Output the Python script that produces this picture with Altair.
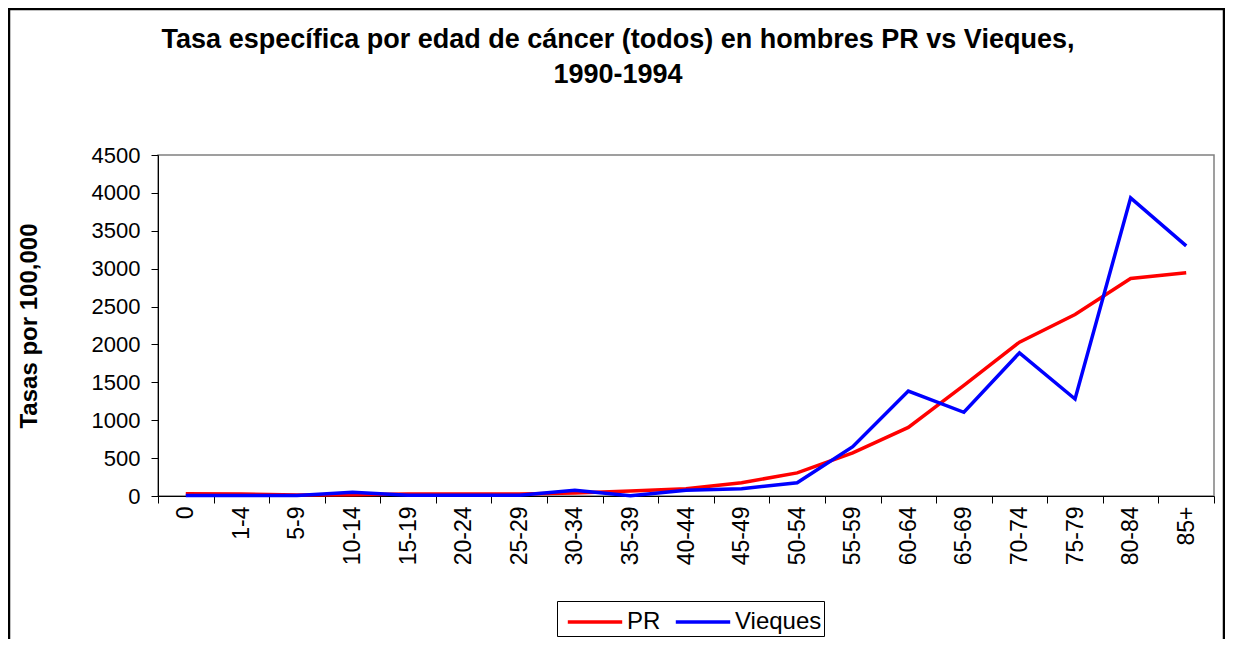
import altair as alt
import pandas as pd

ages = ["0", "1-4", "5-9", "10-14", "15-19", "20-24", "25-29", "30-34", "35-39",
        "40-44", "45-49", "50-54", "55-59", "60-64", "65-69", "70-74", "75-79",
        "80-84", "85+"]
pr = [30, 28, 12, 15, 25, 25, 25, 40, 65, 95, 175, 305, 570, 905, 1460, 2030, 2395, 2870, 2945]
vieques = [5, 5, 5, 50, 10, 10, 10, 75, 5, 75, 95, 175, 650, 1385, 1105, 1890, 1280, 3935, 3300]
series = ["PR", "Vieques"]
colors = ["#FF0000", "#0000FF"]
y_ticks = [0, 500, 1000, 1500, 2000, 2500, 3000, 3500, 4000, 4500]
title_lines = ["Tasa específica por edad de cáncer (todos) en hombres PR vs Vieques,",
               "1990-1994"]

rows = []
for i, a in enumerate(ages):
    rows.append({"Edad": a, "Serie": "PR", "Tasa": pr[i], "o": i})
    rows.append({"Edad": a, "Serie": "Vieques", "Tasa": vieques[i], "o": i})
df = pd.DataFrame(rows)

FONT = "Liberation Sans"

lines = alt.Chart(df).mark_line(strokeWidth=3.5).encode(
    x=alt.X("Edad:O", sort=ages,
            scale=alt.Scale(type="band", paddingInner=0, paddingOuter=0),
            axis=alt.Axis(title=None, labelAngle=-90, labelAlign="right",
                          labelBaseline="middle", labelFontSize=23, labelFont=FONT,
                          labelColor="black", tickBand="extent", tickSize=7,
                          tickColor="black", domainColor="black", labelPadding=3)),
    y=alt.Y("Tasa:Q", scale=alt.Scale(domain=[0, 4500], nice=False),
            axis=alt.Axis(title="Tasas por 100,000", values=y_ticks, grid=False,
                          format="d",
                          labelFontSize=22, labelFont=FONT, labelColor="black",
                          titleFontSize=24, titleFont=FONT, titleFontWeight="bold",
                          titleColor="black", titlePadding=50, tickSize=7,
                          tickColor="black", domainColor="black", labelPadding=11)),
    color=alt.Color("Serie:N", scale=alt.Scale(domain=series, range=colors),
                    legend=alt.Legend(title=None, orient="none", direction="horizontal",
                                      legendX=399, legendY=446,
                                      symbolType="M-1.6,0L1.6,0", symbolStrokeWidth=3.5,
                                      symbolSize=1156, symbolOffset=17,
                                      labelFontSize=24, labelFont=FONT,
                                      labelColor="black", strokeColor="black",
                                      padding=2, columnPadding=6, labelOffset=13)),
    order="o:Q",
)

frame = alt.Chart(pd.DataFrame({"a": [0]})).mark_rect(
    fill=None, stroke="black", strokeWidth=2.5
).encode(
    x=alt.value(-149), x2=alt.value(1066), y=alt.value(-146), y2=alt.value(495)
)

title_data = pd.DataFrame({"t": title_lines, "k": [0, 1]})
t1 = alt.Chart(title_data).transform_filter("datum.k == 0").mark_text(
    font=FONT, fontSize=27, fontWeight="bold", color="black",
    align="center", baseline="middle"
).encode(text="t:N", x=alt.value(460), y=alt.value(-115))
t2 = alt.Chart(title_data).transform_filter("datum.k == 1").mark_text(
    font=FONT, fontSize=27, fontWeight="bold", color="black",
    align="center", baseline="middle"
).encode(text="t:N", x=alt.value(460), y=alt.value(-80))

chart = alt.layer(lines, frame, t1, t2).properties(
    width=1056, height=341,
    autosize=alt.AutoSizeParams(type="none"),
    padding={"left": 150, "top": 147, "right": 11, "bottom": 143},
).configure_view(stroke="#808080", strokeWidth=1.5)

chart.save("out.html", embed_options={"renderer": "svg", "actions": False})
